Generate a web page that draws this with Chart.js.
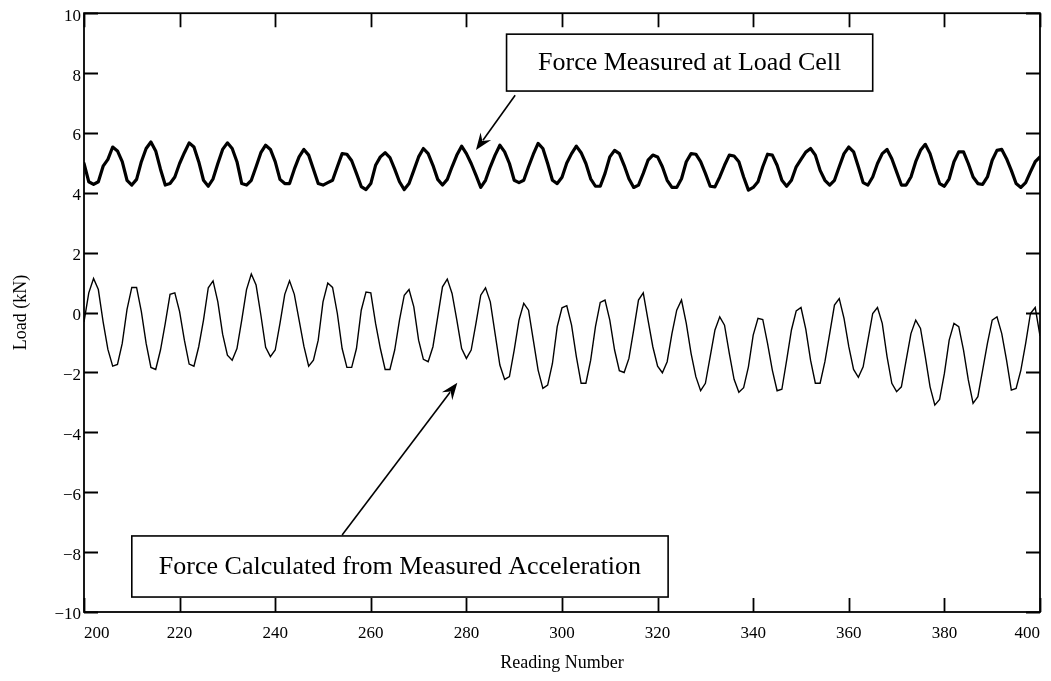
<!DOCTYPE html>
<html>
<head>
<meta charset="utf-8">
<script src="https://cdn.jsdelivr.net/npm/chart.js@4.4.1/dist/chart.umd.min.js"></script>
<style>
  html, body { margin: 0; padding: 0; background: #ffffff; }
  #wrap { width: 1051px; height: 681px; position: relative; }
</style>
</head>
<body>
<div id="wrap"><canvas id="chart" width="1051" height="681"></canvas></div>
<script>
// Reading numbers start here and advance by one per sample
const firstReading = 200;

// Force measured at the load cell (kN), one value per reading
const loadCell = [
  4.98, 4.37, 4.28, 4.37, 4.89, 5.12, 5.53, 5.40, 5.04, 4.42,
  4.26, 4.45, 5.04, 5.48, 5.70, 5.40, 4.79, 4.26, 4.31, 4.53,
  4.98, 5.34, 5.67, 5.53, 5.04, 4.42, 4.22, 4.47, 4.98, 5.45,
  5.67, 5.48, 5.04, 4.31, 4.26, 4.42, 4.87, 5.34, 5.59, 5.45,
  5.04, 4.45, 4.31, 4.31, 4.79, 5.20, 5.45, 5.26, 4.79, 4.31,
  4.26, 4.34, 4.42, 4.87, 5.31, 5.29, 5.07, 4.65, 4.21, 4.11,
  4.31, 4.92, 5.20, 5.34, 5.18, 4.79, 4.37, 4.11, 4.31, 4.75,
  5.20, 5.48, 5.31, 4.92, 4.45, 4.26, 4.45, 4.87, 5.26, 5.56,
  5.31, 4.98, 4.59, 4.18, 4.42, 4.87, 5.26, 5.59, 5.37, 4.98,
  4.42, 4.34, 4.42, 4.87, 5.29, 5.65, 5.48, 4.98, 4.42, 4.31,
  4.52, 5.00, 5.31, 5.56, 5.34, 4.98, 4.47, 4.22, 4.22, 4.65,
  5.20, 5.42, 5.31, 4.92, 4.47, 4.18, 4.26, 4.65, 5.09, 5.26,
  5.20, 4.87, 4.42, 4.18, 4.18, 4.47, 5.04, 5.31, 5.29, 5.04,
  4.65, 4.22, 4.20, 4.53, 4.92, 5.26, 5.23, 5.04, 4.53, 4.09,
  4.18, 4.37, 4.87, 5.29, 5.26, 4.92, 4.42, 4.22, 4.42, 4.87,
  5.12, 5.36, 5.48, 5.26, 4.75, 4.42, 4.26, 4.42, 4.87, 5.31,
  5.53, 5.37, 4.87, 4.34, 4.26, 4.53, 4.98, 5.31, 5.45, 5.14,
  4.70, 4.26, 4.26, 4.53, 5.04, 5.42, 5.62, 5.31, 4.79, 4.31,
  4.22, 4.47, 5.04, 5.37, 5.37, 4.98, 4.53, 4.31, 4.28, 4.53,
  5.09, 5.42, 5.45, 5.14, 4.75, 4.31, 4.18, 4.34, 4.70, 5.04,
  5.20
];

// Force calculated from the measured acceleration (kN), one value per reading
const fromAcceleration = [
  -0.31, 0.66, 1.14, 0.77, -0.31, -1.23, -1.79, -1.73, -1.03, 0.11,
  0.84, 0.84, 0.03, -1.03, -1.83, -1.90, -1.25, -0.36, 0.61, 0.66,
  0.03, -0.92, -1.72, -1.79, -1.14, -0.25, 0.83, 1.06, 0.36, -0.72,
  -1.42, -1.59, -1.20, -0.25, 0.77, 1.29, 0.92, -0.08, -1.16, -1.47,
  -1.25, -0.36, 0.61, 1.06, 0.61, -0.25, -1.12, -1.79, -1.59, -0.92,
  0.36, 0.99, 0.84, -0.03, -1.20, -1.83, -1.83, -1.20, 0.08, 0.69,
  0.66, -0.36, -1.20, -1.90, -1.90, -1.25, -0.25, 0.58, 0.77, 0.19,
  -0.92, -1.56, -1.64, -1.14, -0.14, 0.86, 1.12, 0.64, -0.25, -1.20,
  -1.53, -1.25, -0.36, 0.58, 0.83, 0.36, -0.70, -1.75, -2.23, -2.14,
  -1.25, -0.25, 0.31, 0.08, -0.92, -1.92, -2.53, -2.42, -1.70, -0.47,
  0.16, 0.23, -0.42, -1.47, -2.36, -2.36, -1.59, -0.47, 0.34, 0.42,
  -0.25, -1.25, -1.94, -2.00, -1.53, -0.58, 0.42, 0.66, -0.25, -1.14,
  -1.79, -2.01, -1.64, -0.70, 0.08, 0.42, -0.36, -1.36, -2.14, -2.61,
  -2.36, -1.47, -0.58, -0.14, -0.42, -1.36, -2.23, -2.66, -2.51, -1.81,
  -0.75, -0.19, -0.23, -1.03, -1.92, -2.61, -2.56, -1.59, -0.58, 0.06,
  0.17, -0.55, -1.59, -2.36, -2.36, -1.64, -0.70, 0.25, 0.47, -0.19,
  -1.14, -1.90, -2.16, -1.81, -0.92, -0.03, 0.17, -0.36, -1.47, -2.36,
  -2.64, -2.48, -1.59, -0.70, -0.25, -0.53, -1.47, -2.48, -3.09, -2.90,
  -2.03, -0.92, -0.36, -0.47, -1.25, -2.25, -3.03, -2.81, -1.92, -1.03,
  -0.25, -0.14, -0.70, -1.59, -2.59, -2.53, -1.92, -1.03, -0.03, 0.17,
  -0.78
];

// Axis ticks
const xTicks = [200, 220, 240, 260, 280, 300, 320, 340, 360, 380, 400];
const xTickLabels = ['200', '220', '240', '260', '280', '300', '320', '340', '360', '380', '400'];
const yTicks = [-10, -8, -6, -4, -2, 0, 2, 4, 6, 8, 10];
const yTickLabels = ['\u221210', '\u22128', '\u22126', '\u22124', '\u22122', '0', '2', '4', '6', '8', '10'];

// Callout captions
const captionLoadCell = 'Force Measured at Load Cell';
const captionAccel = 'Force Calculated from Measured Acceleration';

const toPoints = arr => arr.map((v, i) => ({ x: firstReading + i, y: v }));

const SERIF = "'Liberation Serif', 'Times New Roman', serif";
const INK = '#000000';

// Callout boxes and arrows, placed in reading / load units
const callouts = [
  { box: [288.4, 365.0, 9.30, 7.40], text: captionLoadCell,
    arrow: { from: [290.2, 7.26], to: [282.0, 5.43] } },
  { box: [210.0, 322.2, -7.46, -9.50], text: captionAccel,
    arrow: { from: [254.0, -7.43], to: [278.1, -2.34] } }
];

function drawArrowHead(ctx, x0, y0, x1, y1) {
  const ang = Math.atan2(y1 - y0, x1 - x0);
  const len = 17, half = 6.5, notch = 11;
  ctx.save();
  ctx.translate(x1, y1);
  ctx.rotate(ang);
  ctx.beginPath();
  ctx.moveTo(0, 0);
  ctx.lineTo(-len, -half);
  ctx.lineTo(-notch, 0);
  ctx.lineTo(-len, half);
  ctx.closePath();
  ctx.fillStyle = INK;
  ctx.fill();
  ctx.restore();
}

const framePlugin = {
  id: 'frameAndCallouts',
  afterDraw(chart) {
    const { ctx, chartArea: a, scales: { x, y } } = chart;
    ctx.save();
    ctx.strokeStyle = INK;
    ctx.lineWidth = 1.8;
    ctx.lineCap = 'butt';
    // plot frame
    ctx.strokeRect(a.left, a.top, a.right - a.left, a.bottom - a.top);
    // inward tick marks on all four sides
    const tl = 14;
    ctx.beginPath();
    xTicks.forEach(v => {
      const px = Math.round(x.getPixelForValue(v)) + 0.5;
      ctx.moveTo(px, a.bottom); ctx.lineTo(px, a.bottom - tl);
      ctx.moveTo(px, a.top); ctx.lineTo(px, a.top + tl);
    });
    yTicks.forEach(v => {
      const py = Math.round(y.getPixelForValue(v)) + 0.5;
      ctx.moveTo(a.left, py); ctx.lineTo(a.left + tl, py);
      ctx.moveTo(a.right, py); ctx.lineTo(a.right - tl, py);
    });
    ctx.stroke();

    // callouts
    callouts.forEach(c => {
      const l = x.getPixelForValue(c.box[0]);
      const r = x.getPixelForValue(c.box[1]);
      const t = y.getPixelForValue(c.box[2]);
      const b = y.getPixelForValue(c.box[3]);
      ctx.fillStyle = '#ffffff';
      ctx.fillRect(l, t, r - l, b - t);
      ctx.lineWidth = 1.6;
      ctx.strokeRect(l, t, r - l, b - t);
      ctx.fillStyle = INK;
      ctx.font = '26px ' + SERIF;
      ctx.textAlign = 'center';
      ctx.textBaseline = 'middle';
      ctx.fillText(c.text, (l + r) / 2, (t + b) / 2 + 1);

      const x0 = x.getPixelForValue(c.arrow.from[0]);
      const y0 = y.getPixelForValue(c.arrow.from[1]);
      const x1 = x.getPixelForValue(c.arrow.to[0]);
      const y1 = y.getPixelForValue(c.arrow.to[1]);
      const ang = Math.atan2(y1 - y0, x1 - x0);
      ctx.lineWidth = 1.6;
      ctx.beginPath();
      ctx.moveTo(x0, y0);
      ctx.lineTo(x1 - Math.cos(ang) * 12, y1 - Math.sin(ang) * 12);
      ctx.stroke();
      drawArrowHead(ctx, x0, y0, x1, y1);
    });
    ctx.restore();
  }
};

new Chart(document.getElementById('chart'), {
  type: 'line',
  data: {
    datasets: [
      {
        label: captionLoadCell,
        data: toPoints(loadCell),
        borderColor: INK,
        borderWidth: 3.2,
        borderJoinStyle: 'round',
        borderCapStyle: 'round',
        pointRadius: 0,
        tension: 0,
        fill: false
      },
      {
        label: captionAccel,
        data: toPoints(fromAcceleration),
        borderColor: INK,
        borderWidth: 1.4,
        pointRadius: 0,
        tension: 0,
        fill: false
      }
    ]
  },
  options: {
    responsive: false,
    devicePixelRatio: 1,
    animation: false,
    events: [],
    layout: { padding: { top: 13, right: 8, left: 0, bottom: 0 } },
    plugins: { legend: { display: false }, tooltip: { enabled: false } },
    scales: {
      x: {
        type: 'linear',
        min: 200,
        max: 400,
        afterBuildTicks: s => { s.ticks = xTicks.map(v => ({ value: v })); },
        afterFit: s => { s.height = 69; },
        grid: { display: false, drawTicks: false },
        border: { display: false },
        ticks: {
          align: 'inner',
          maxRotation: 0,
          autoSkip: false,
          padding: 11,
          color: INK,
          font: { family: SERIF, size: 17 },
          callback: v => xTickLabels[xTicks.indexOf(v)]
        },
        title: {
          display: true,
          text: 'Reading Number',
          color: INK,
          font: { family: SERIF, size: 18 },
          padding: { top: 0, bottom: 7 }
        }
      },
      y: {
        type: 'linear',
        min: -10,
        max: 10,
        afterBuildTicks: s => { s.ticks = yTicks.map(v => ({ value: v })); },
        afterFit: s => { s.width = 84; },
        grid: { display: false, drawTicks: false },
        border: { display: false },
        ticks: {
          autoSkip: false,
          padding: 3,
          labelOffset: 3,
          color: INK,
          font: { family: SERIF, size: 17 },
          callback: v => yTickLabels[yTicks.indexOf(v)]
        },
        title: {
          display: true,
          text: 'Load (kN)',
          color: INK,
          font: { family: SERIF, size: 18 },
          padding: { top: 10, bottom: 0 }
        }
      }
    }
  },
  plugins: [framePlugin]
});
</script>
</body>
</html>
